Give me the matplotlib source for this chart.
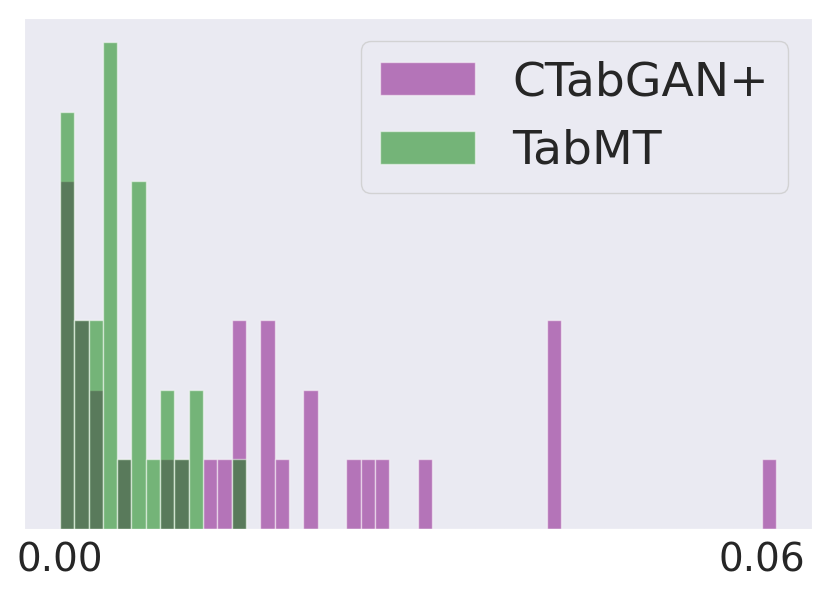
import numpy as np
import matplotlib
matplotlib.use("Agg")
import matplotlib.pyplot as plt
import seaborn as sns

# Data: counts per bin (50 equal bins from 0 to ~0.0612)
bin_lo = 0.0
bin_hi = 0.0612
n_bins = 50
ctabgan_counts = [5, 3, 2, 0, 1, 0, 0, 1, 1, 0,
                  1, 1, 3, 0, 3, 1, 0, 2, 0, 0,
                  1, 1, 1, 0, 0, 1, 0, 0, 0, 0,
                  0, 0, 0, 0, 3, 0, 0, 0, 0, 0,
                  0, 0, 0, 0, 0, 0, 0, 0, 0, 1]
tabmt_counts = [6, 3, 3, 7, 1, 5, 1, 2, 1, 2,
                0, 0, 1, 0, 0, 0, 0, 0, 0, 0,
                0, 0, 0, 0, 0, 0, 0, 0, 0, 0,
                0, 0, 0, 0, 0, 0, 0, 0, 0, 0,
                0, 0, 0, 0, 0, 0, 0, 0, 0, 0]
labels = ["CTabGAN+", "TabMT"]
xticks = [0.0, 0.06]
xticklabels = ["0.00", "0.06"]

sns.set_style("darkgrid")

edges = np.linspace(bin_lo, bin_hi, n_bins + 1)
centers = (edges[:-1] + edges[1:]) / 2

fig = plt.figure(figsize=(8.3, 6), dpi=100)
ax = fig.add_axes([0.029, 0.1183, 0.949, 0.852])

ax.hist(centers, bins=edges, weights=ctabgan_counts, color="purple", alpha=0.5,
        edgecolor="white", linewidth=1, label=labels[0])
ax.hist(centers, bins=edges, weights=tabmt_counts, color="green", alpha=0.5,
        edgecolor="white", linewidth=1, label=labels[1])

ax.grid(False)
ax.set_yticks([])
ax.set_xticks(xticks)
ax.set_xticklabels(xticklabels)
ax.tick_params(axis="x", labelsize=28, pad=9, length=0)
ax.legend(loc="upper right", fontsize=34)

fig.savefig("out.png", dpi=100)
